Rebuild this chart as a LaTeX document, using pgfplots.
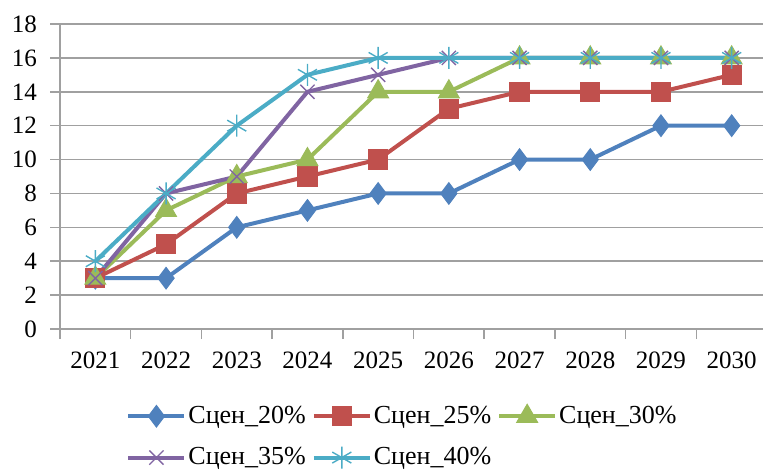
\documentclass[border=0pt]{standalone}
\usepackage{pgfplots}
\pgfplotsset{compat=1.18}
\usepackage{fontspec}
\setmainfont{Liberation Serif}
\definecolor{cA}{HTML}{4F81BD}
\definecolor{cB}{HTML}{C0504D}
\definecolor{cC}{HTML}{9BBB59}
\definecolor{cD}{HTML}{8064A2}
\definecolor{cE}{HTML}{4BACC6}
\definecolor{gridgray}{HTML}{A0A0A0}
\begin{document}
\begin{tikzpicture}[x=1pt,y=1pt]
\path[use as bounding box] (-30,-71.5) rectangle (351.5,164.5);
\begin{axis}[
  at={(0,0)}, anchor=south west,
  scale only axis, width=353.5pt, height=152.5pt,
  xmin=-0.5, xmax=9.5, ymin=0, ymax=18,
  axis x line*=bottom, axis y line*=left,
  axis line style={draw=gridgray, line width=0.75pt, -},
  ymajorgrids, grid style={gridgray, line width=0.75pt},
  ytick={0,2,...,18},
  xtick={-0.5,0.5,...,9.5},
  x tick label as interval,
  xticklabels={2021,2022,2023,2024,2025,2026,2027,2028,2029,2030},
  tick align=outside, major tick length=5pt,
  tick style={gridgray, line width=0.75pt},
  tick label style={font=\fontsize{12.5}{14}\selectfont, black},
  xticklabel style={yshift=-3pt},
  yticklabel style={xshift=-3pt},
  /pgf/number format/assume math mode=true,
  every axis plot/.append style={line width=2pt},
  legend columns=3,
  legend style={at={(rel axis cs:0.0934,-0.245)}, anchor=north west, draw=none,
    font=\fontsize{13}{15}\selectfont, row sep=8.5pt, inner sep=0pt,
    nodes={inner sep=1pt},
    /tikz/every odd column/.append style={column sep=0pt},
    /tikz/every even column/.append style={column sep=2pt}},
  legend cell align=left,
  legend image code/.code={\draw[mark repeat=2,mark phase=2] plot coordinates {(0pt,0pt)(14pt,0pt)(28pt,0pt)};},
]
\addplot[cA, mark=diamond*, mark size=5.4pt, mark options={fill=cA, line width=0.5pt}] coordinates {(0,3)(1,3)(2,6)(3,7)(4,8)(5,8)(6,10)(7,10)(8,12)(9,12)};
\addlegendentry{Сцен\_20\%}
\addplot[cB, mark=square*, mark size=4.8pt, mark options={fill=cB, line width=0.5pt}] coordinates {(0,3)(1,5)(2,8)(3,9)(4,10)(5,13)(6,14)(7,14)(8,14)(9,15)};
\addlegendentry{Сцен\_25\%}
\addplot[cC, mark=triangle*, mark size=6pt, mark options={fill=cC, line width=0.5pt}] coordinates {(0,3)(1,7)(2,9)(3,10)(4,14)(5,14)(6,16)(7,16)(8,16)(9,16)};
\addlegendentry{Сцен\_30\%}
\addplot[cD, mark=x, mark size=5pt, mark options={line width=0.7pt}] coordinates {(0,3)(1,8)(2,9)(3,14)(4,15)(5,16)(6,16)(7,16)(8,16)(9,16)};
\addlegendentry{Сцен\_35\%}
\addplot[cE, mark=asterisk, mark size=5.5pt, mark options={line width=0.7pt}] coordinates {(0,4)(1,8)(2,12)(3,15)(4,16)(5,16)(6,16)(7,16)(8,16)(9,16)};
\addlegendentry{Сцен\_40\%}
\end{axis}
\end{tikzpicture}
\end{document}
